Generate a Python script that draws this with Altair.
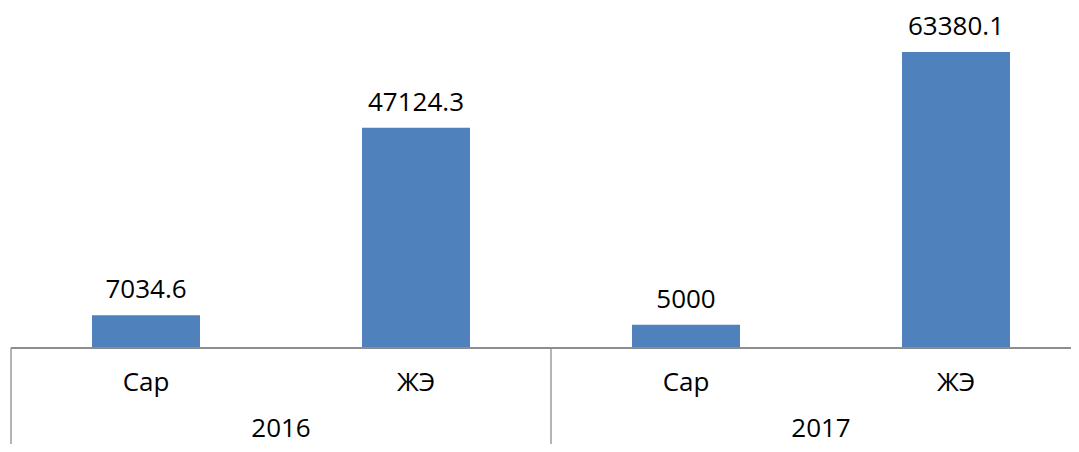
import altair as alt
import pandas as pd

years = ["2016", "2016", "2017", "2017"]
categories = ["Сар", "ЖЭ", "Сар", "ЖЭ"]
values = [7034.6, 47124.3, 5000, 63380.1]
value_labels = ["7034.6", "47124.3", "5000", "63380.1"]

df = pd.DataFrame({
    "idx": list(range(len(values))),
    "year": years,
    "cat": categories,
    "value": values,
    "label": value_labels,
})

W = 1060
H = 327
FONT = "Open Sans"
FS = 26
BAR = "#4F81BD"
LINE = "#8C8C8C"

xscale = alt.Scale(domain=[0, W / 270], nice=False, zero=False)
yscale = alt.Scale(domain=[0, 70000], nice=False)

base = alt.Chart(df).transform_calculate(
    xc="datum.idx + 0.5", xa="datum.idx + 0.3", xb="datum.idx + 0.7"
)

bars = base.mark_bar(color=BAR).encode(
    x=alt.X("xa:Q", scale=xscale, axis=None),
    x2="xb:Q",
    y=alt.Y("value:Q", scale=yscale, axis=None),
    y2=alt.datum(0),
)

vlabels = base.mark_text(font=FONT, fontSize=FS, color="#000000",
                         baseline="alphabetic", dy=-17).encode(
    x=alt.X("xc:Q", scale=xscale, axis=None),
    y=alt.Y("value:Q", scale=yscale, axis=None),
    text="label:N",
)

catlabels = base.mark_text(font=FONT, fontSize=FS, color="#000000",
                           baseline="alphabetic").encode(
    x=alt.X("xc:Q", scale=xscale, axis=None),
    y=alt.value(H + 43),
    text="cat:N",
)

yearlabels = base.transform_aggregate(
    xm="mean(xc)", groupby=["year"]
).mark_text(font=FONT, fontSize=FS, color="#000000", baseline="alphabetic").encode(
    x=alt.X("xm:Q", scale=xscale, axis=None),
    y=alt.value(H + 89),
    text="year:N",
)

seps = base.transform_aggregate(
    xs="min(idx)", groupby=["year"]
).mark_rule(color=LINE, strokeWidth=1.3).encode(
    x=alt.X("xs:Q", scale=xscale, axis=None),
    y=alt.value(H),
    y2=alt.value(H + 100),
)

axisline = alt.Chart(df).mark_rule(color=LINE, strokeWidth=1.3).encode(
    x=alt.value(0), x2=alt.value(W), y=alt.value(H)
)

chart = alt.layer(bars, vlabels, catlabels, yearlabels, seps, axisline).properties(
    width=W, height=H,
    autosize=alt.AutoSizeParams(type="none"),
    padding={"left": 3, "top": 13, "right": 0, "bottom": 96},
).configure_view(stroke=None)

chart.save("out.html", embed_options={"renderer": "svg", "actions": False})
